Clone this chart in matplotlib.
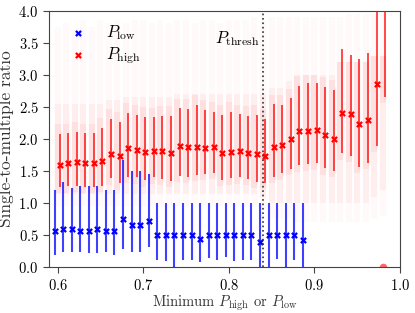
import numpy as np
import matplotlib.pyplot as plt

plt.rcParams['font.family'] = 'serif'
plt.rcParams['font.serif'] = ['cmr10']
plt.rcParams['mathtext.fontset'] = 'cm'
plt.rcParams['axes.formatter.use_mathtext'] = True

# bin centres (minimum P)
bin_x = [0.60, 0.61, 0.62, 0.63, 0.64, 0.65, 0.66, 0.67, 0.68, 0.69,
         0.70, 0.71, 0.72, 0.73, 0.74, 0.75, 0.76, 0.77, 0.78, 0.79,
         0.80, 0.81, 0.82, 0.83, 0.84, 0.85, 0.86, 0.87, 0.88, 0.89,
         0.90, 0.91, 0.92, 0.93, 0.94, 0.95, 0.96, 0.97, 0.98]

# P_low : ratio and spread
low_mid = [0.573, 0.598, 0.596, 0.567, 0.567, 0.598, 0.570, 0.570, 0.745, 0.667,
           0.667, 0.716, 0.500, 0.500, 0.500, 0.500, 0.500, 0.447, 0.500, 0.500,
           0.500, 0.500, 0.500, 0.500, 0.400, 0.500, 0.500, 0.500, 0.500, 0.428]
low_hi = [1.204, 1.333, 1.233, 1.266, 1.266, 1.266, 1.204, 1.204, 1.671, 1.505,
          1.505, 1.450, 1.0, 1.0, 1.0, 1.0, 1.0, 1.0, 1.0, 1.0,
          1.0, 1.0, 1.0, 1.0, 1.0, 1.0, 1.0, 1.0, 1.0, 1.0]
low_lo = [0.186, 0.234, 0.234, 0.234, 0.218, 0.218, 0.240, 0.186, 0.280, 0.234,
          0.234, 0.320, 0.114, 0.100, -0.05, 0.114, 0.114, 0.077, 0.150, 0.114,
          0.158, 0.100, 0.114, 0.120, -0.05, -0.05, 0.135, -0.05, 0.114, -0.05]

# P_high : ratio and spread
high_mid = [1.590, 1.630, 1.635, 1.625, 1.620, 1.660, 1.760, 1.735, 1.860, 1.825,
            1.790, 1.810, 1.805, 1.776, 1.889, 1.882, 1.869, 1.863, 1.869, 1.788,
            1.791, 1.815, 1.788, 1.760, 1.734, 1.879, 1.900, 2.000, 2.120, 2.120,
            2.140, 2.060, 2.000, 2.400, 2.383, 2.230, 2.294, 2.855, 4.400]
high_hi = [2.080, 2.090, 2.110, 2.090, 2.090, 2.170, 2.310, 2.265, 2.408, 2.378,
           2.350, 2.340, 2.357, 2.357, 2.480, 2.468, 2.530, 2.455, 2.420, 2.378,
           2.424, 2.383, 2.357, 2.372, 2.310, 2.543, 2.528, 2.632, 2.830, 2.866,
           2.875, 2.813, 2.762, 3.400, 3.307, 3.245, 3.333, 4.600, 4.600]
high_lo = [1.255, 1.260, 1.266, 1.255, 1.255, 1.266, 1.390, 1.310, 1.411, 1.400,
           1.355, 1.400, 1.380, 1.350, 1.430, 1.410, 1.440, 1.460, 1.470, 1.365,
           1.386, 1.402, 1.375, 1.333, 1.318, 1.411, 1.464, 1.536, 1.593, 1.606,
           1.620, 1.542, 1.505, 1.776, 1.738, 1.567, 1.629, 1.894, 2.657]

# individual P_high samples: dense core and sparse tails per bin
core_lo = [1.15, 1.15, 1.15, 1.15, 1.15, 1.15, 1.15, 1.15, 1.15, 1.15,
           1.15, 1.15, 1.15, 1.15, 1.15, 1.15, 1.15, 1.15, 1.15, 1.15,
           1.15, 1.15, 1.15, 1.15, 1.10, 1.00, 1.00, 1.00, 1.00, 1.00,
           1.00, 1.00, 1.00, 1.00, 1.00, 1.00, 1.00, 1.10, 1.20]
core_hi = [2.55, 2.55, 2.55, 2.55, 2.55, 2.55, 2.60, 2.60, 2.65, 2.65,
           2.65, 2.65, 2.65, 2.65, 2.70, 2.70, 2.70, 2.70, 2.70, 2.70,
           2.70, 2.70, 2.70, 2.70, 2.70, 2.80, 2.80, 2.90, 3.00, 3.00,
           3.00, 3.00, 3.00, 3.20, 3.20, 3.20, 3.20, 3.30, 3.30]
tail_lo = [0.95, 0.95, 0.95, 0.95, 0.95, 0.95, 0.95, 0.95, 0.95, 0.95,
           0.95, 0.95, 0.95, 0.95, 0.95, 0.95, 0.95, 0.95, 0.95, 0.95,
           0.95, 0.95, 0.95, 0.95, 0.90, 0.75, 0.75, 0.75, 0.70, 0.70,
           0.70, 0.70, 0.70, 0.70, 0.70, 0.70, 0.70, 0.75, 0.80]
tail_hi = [3.75, 3.80, 3.70, 3.85, 3.75, 3.85, 3.80, 3.85, 3.80, 3.85,
           3.85, 3.80, 3.85, 3.80, 3.85, 3.85, 3.80, 3.85, 3.85, 3.80,
           3.85, 3.85, 3.85, 3.90, 3.85, 3.90, 3.90, 3.90, 3.90, 3.90,
           3.90, 3.90, 3.90, 3.90, 3.95, 3.95, 3.95, 3.95, 3.95]

p_thresh = 0.84

bin_x = np.array(bin_x)
x_low = bin_x[:len(low_mid)] - 0.0035
x_high = bin_x + 0.0025

fig, ax = plt.subplots(figsize=(4.15, 3.13), dpi=100)
fig.subplots_adjust(left=0.118, right=0.964, bottom=0.146, top=0.966)

# faint cloud of individual samples
ax.vlines(bin_x, tail_lo, tail_hi, color='red', alpha=0.022, lw=4.5, zorder=1)
ax.vlines(bin_x, core_lo, core_hi, color='red', alpha=0.045, lw=4.5, zorder=1)
core_top = np.minimum(np.array(high_hi) + 0.15, core_hi)
ax.vlines(bin_x, np.array(high_lo) - 0.1, core_top, color='red', alpha=0.06,
          lw=4.5, zorder=1)
ax.scatter([0.98], [0.0], s=30, color='red', alpha=0.6, lw=0, zorder=2)

ax.vlines(x_low, low_lo, low_hi, color='blue', alpha=0.75, lw=1.5, zorder=3)
ax.vlines(x_high, high_lo, high_hi, color='red', alpha=0.9, lw=1.1, zorder=3)
ax.scatter(x_low, low_mid, marker='x', s=14, color='blue', lw=1.6, zorder=4,
           label=r'$P_\mathrm{low}$')
ax.scatter(x_high, high_mid, marker='x', s=14, color='red', lw=1.6, zorder=4,
           label=r'$P_\mathrm{high}$')

ax.axvline(p_thresh, color='#333333', ls=':', lw=1.2, zorder=5)
ax.text(p_thresh - 0.004, 3.57, r'$P_\mathrm{thresh}$', ha='right', va='center',
        fontsize=12)

ax.set_xlim(0.59, 1.0)
ax.set_ylim(0, 4)
ax.set_xticks([0.6, 0.7, 0.8, 0.9, 1.0])
ax.set_yticks([0.0, 0.5, 1.0, 1.5, 2.0, 2.5, 3.0, 3.5, 4.0])
ax.tick_params(labelsize=10.5, direction='out', length=4, color='#444444')
for s in ax.spines.values():
    s.set_color('#444444')
ax.set_xlabel(r'Minimum $P_\mathrm{high}$ or $P_\mathrm{low}$', fontsize=10.5,
              color='#333333', labelpad=1)
ax.set_ylabel('Single-to-multiple ratio', fontsize=12.5, color='#333333',
              labelpad=3)

ax.legend(loc='upper left', frameon=False, fontsize=12, handletextpad=0.7,
          labelspacing=0.2, bbox_to_anchor=(-0.008, 1.01))

plt.savefig('out.png', dpi=100)
